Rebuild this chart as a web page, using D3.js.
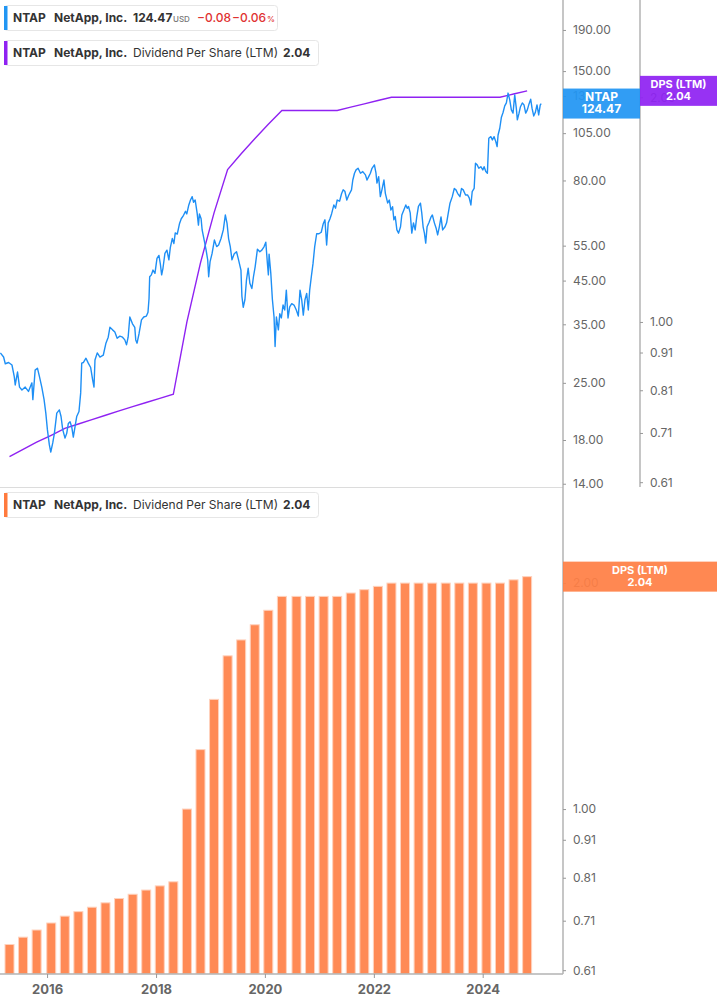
<!DOCTYPE html>
<html><head><meta charset="utf-8">
<script src="https://cdn.jsdelivr.net/npm/d3@7"></script>
<style>
html,body{margin:0;padding:0;background:#fff;}
svg{display:block;font-family:Inter,"Noto Sans",sans-serif;}
</style></head><body>
<svg id="c" width="717" height="1005"></svg>
<script>
// ---------- DATA ----------
// NTAP price (decimal year, USD)
const priceSeries = [
[2015.141,29.7],[2015.201,29.0],[2015.232,27.9],[2015.293,28.1],[2015.355,27.7],[2015.397,25.9],[2015.415,24.7],[2015.457,26.6],[2015.494,24.4],[2015.538,24.0],[2015.598,24.4],[2015.658,23.8],[2015.721,25.0],[2015.739,22.7],[2015.781,26.9],[2015.823,27.2],[2015.860,25.9],[2015.903,24.4],[2015.945,22.7],[2015.977,21.0],
[2016.006,19.1],[2016.042,17.5],[2016.068,16.8],[2016.104,17.7],[2016.134,18.7],[2016.178,21.0],[2016.225,21.4],[2016.256,20.6],[2016.287,19.1],[2016.329,18.2],[2016.360,18.7],[2016.390,19.8],[2016.421,20.0],[2016.452,19.4],[2016.481,18.3],[2016.512,19.4],[2016.543,20.6],[2016.585,21.2],[2016.616,23.6],[2016.635,28.0],[2016.664,28.1],[2016.713,28.8],[2016.755,28.0],[2016.799,27.3],[2016.836,25.4],[2016.860,24.4],[2016.878,28.5],[2016.920,29.7],[2016.969,29.0],
[2017.030,29.3],[2017.079,31.4],[2017.121,32.5],[2017.152,34.4],[2017.201,33.9],[2017.243,33.5],[2017.285,32.3],[2017.335,32.7],[2017.384,32.5],[2017.426,32.0],[2017.457,31.1],[2017.487,32.5],[2017.518,36.5],[2017.567,35.1],[2017.609,34.4],[2017.627,32.0],[2017.651,31.4],[2017.688,33.2],[2017.732,35.9],[2017.774,36.5],[2017.823,36.7],[2017.852,37.5],[2017.871,40.6],[2017.883,46.0],[2017.914,46.5],[2017.944,47.8],[2017.980,46.9],
[2018.017,51.1],[2018.053,52.0],[2018.079,49.5],[2018.103,46.5],[2018.127,48.3],[2018.163,52.6],[2018.200,53.6],[2018.236,50.7],[2018.262,54.4],[2018.298,57.3],[2018.328,55.7],[2018.353,59.2],[2018.390,58.8],[2018.432,62.5],[2018.463,64.2],[2018.505,65.5],[2018.541,67.0],[2018.565,66.0],[2018.602,69.5],[2018.633,71.5],[2018.664,72.9],[2018.688,70.6],[2018.719,71.5],[2018.755,66.3],[2018.779,61.9],[2018.797,66.0],[2018.828,64.2],[2018.847,60.2],[2018.889,56.4],[2018.920,53.6],[2018.949,50.7],[2018.967,46.0],[2018.993,50.2],
[2019.030,52.6],[2019.072,56.8],[2019.114,54.7],[2019.150,55.2],[2019.194,57.3],[2019.236,60.2],[2019.273,65.6],[2019.304,62.6],[2019.333,57.3],[2019.364,54.7],[2019.395,50.7],[2019.437,52.5],[2019.479,53.1],[2019.516,50.7],[2019.560,47.8],[2019.578,41.1],[2019.602,38.6],[2019.633,40.3],[2019.662,45.2],[2019.693,48.3],[2019.724,44.3],[2019.761,43.0],[2019.790,46.0],[2019.821,48.7],[2019.863,53.9],[2019.907,53.1],[2019.944,53.6],[2019.986,54.7],
[2020.017,56.1],[2020.046,49.7],[2020.064,46.5],[2020.077,52.4],[2020.108,47.0],[2020.138,40.3],[2020.168,36.5],[2020.187,30.8],[2020.211,36.5],[2020.247,33.9],[2020.273,37.2],[2020.302,36.3],[2020.333,39.1],[2020.364,38.0],[2020.393,42.6],[2020.424,36.3],[2020.455,38.7],[2020.492,39.4],[2020.534,39.1],[2020.576,38.0],[2020.613,36.7],[2020.644,42.6],[2020.675,40.3],[2020.704,36.9],[2020.735,40.3],[2020.766,41.8],[2020.796,38.0],[2020.821,42.6],[2020.851,46.0],[2020.882,49.6],[2020.913,54.7],[2020.949,58.9],[2020.991,58.9],
[2021.033,59.4],[2021.070,62.4],[2021.101,63.8],[2021.132,55.2],[2021.161,62.7],[2021.192,64.1],[2021.224,66.1],[2021.265,69.5],[2021.296,68.2],[2021.326,71.5],[2021.370,71.0],[2021.406,74.1],[2021.436,75.8],[2021.467,75.2],[2021.503,71.5],[2021.540,73.6],[2021.589,75.8],[2021.613,80.2],[2021.644,83.4],[2021.673,85.0],[2021.710,85.8],[2021.754,83.4],[2021.796,84.2],[2021.845,82.6],[2021.874,80.2],[2021.905,81.8],[2021.936,83.4],[2021.966,85.8],
[2022.010,87.5],[2022.039,83.4],[2022.057,78.8],[2022.088,81.8],[2022.119,72.9],[2022.148,75.8],[2022.185,80.2],[2022.211,74.3],[2022.253,70.3],[2022.284,71.5],[2022.313,67.5],[2022.344,68.8],[2022.368,63.8],[2022.393,65.0],[2022.423,60.2],[2022.454,59.1],[2022.490,61.3],[2022.514,65.6],[2022.551,67.5],[2022.587,69.5],[2022.613,68.2],[2022.637,68.9],[2022.668,66.4],[2022.697,59.1],[2022.728,62.7],[2022.759,60.2],[2022.788,64.9],[2022.819,68.9],[2022.856,70.2],[2022.880,66.4],[2022.905,61.3],[2022.929,59.1],[2022.953,55.8],[2022.978,61.3],
[2023.015,62.9],[2023.052,64.9],[2023.075,65.6],[2023.112,62.7],[2023.143,60.9],[2023.172,58.5],[2023.203,61.3],[2023.234,64.9],[2023.264,60.2],[2023.308,61.3],[2023.337,62.7],[2023.368,66.4],[2023.399,70.2],[2023.441,72.9],[2023.478,76.4],[2023.509,75.8],[2023.538,74.3],[2023.582,72.9],[2023.611,76.4],[2023.642,75.8],[2023.685,73.6],[2023.721,73.6],[2023.752,72.4],[2023.783,69.5],[2023.807,75.0],[2023.843,76.4],[2023.867,88.3],[2023.898,87.5],[2023.929,85.8],[2023.966,86.6],
[2024.002,85.0],[2024.026,86.6],[2024.057,84.2],[2024.086,83.4],[2024.112,102.0],[2024.149,102.9],[2024.178,101.0],[2024.209,102.9],[2024.240,100.0],[2024.264,97.2],[2024.282,103.9],[2024.313,108.0],[2024.343,115.1],[2024.373,118.2],[2024.404,122.8],[2024.434,124.9],[2024.465,132.2],[2024.496,127.1],[2024.525,120.0],[2024.556,117.8],[2024.587,130.8],[2024.616,121.2],[2024.635,113.3],[2024.666,117.8],[2024.690,122.0],[2024.726,124.9],[2024.757,123.5],[2024.788,117.8],[2024.818,120.0],[2024.849,124.2],[2024.880,127.6],[2024.904,121.2],[2024.935,115.9],[2024.964,118.2],[2024.995,123.5],
[2025.026,116.6],[2025.055,123.5],[2025.073,124.47]
];
// Dividend per share (LTM), fiscal quarter ends
const dpsDates = ["2015-04-24","2015-07-24","2015-10-23","2016-01-29","2016-04-29","2016-07-29","2016-10-28","2017-01-27","2017-04-28","2017-07-28","2017-10-27","2018-01-26","2018-04-27","2018-07-27","2018-10-26","2019-01-25","2019-04-26","2019-07-26","2019-10-25","2020-01-24","2020-04-24","2020-07-31","2020-10-30","2021-01-29","2021-04-30","2021-07-30","2021-10-29","2022-01-28","2022-04-29","2022-07-29","2022-10-28","2023-01-27","2023-04-28","2023-07-28","2023-10-27","2024-01-26","2024-04-26","2024-07-26","2024-10-25"];
const dpsValues = [0.66,0.675,0.69,0.705,0.72,0.73,0.74,0.75,0.76,0.77,0.78,0.79,0.80,1.00,1.20,1.40,1.60,1.68,1.76,1.84,1.92,1.92,1.92,1.92,1.92,1.94,1.96,1.98,2.00,2.00,2.00,2.00,2.00,2.00,2.00,2.00,2.00,2.02,2.04];
const yearTicks = [2016,2018,2020,2022,2024];
const priceTicks = [14,18,25,35,45,55,80,105,130,150,190];
const dpsTicks = [0.61,0.71,0.81,0.91,1.00,2.00];
const ticker = "NTAP", company = "NetApp, Inc.", metric = "Dividend Per Share (LTM)";
const lastPrice = 124.47, priceChange = -0.08, pctChange = -0.06, lastDps = 2.04;

// ---------- COLORS ----------
const BLUE = "#2196f3", PURPLE = "#8f22f2", ORANGE = "#ff8a55", ORANGE_LBL = "#ff7f45";
const AX = "#b3b3b3", TXT = "#666";

function decToDate(t){const y=Math.floor(t);const s=new Date(y,0,1),e=new Date(y+1,0,1);return new Date(+s+(t-y)*(e-s));}
const parse = d3.timeParse("%Y-%m-%d");

const svg = d3.select("#c");
const W = 563;
const x = d3.scaleTime().domain([decToDate(2015.135), decToDate(2025.473)]).range([0, W]);
const yP = d3.scaleLog().domain([13.74, 225.7]).range([487, 0]);
const yD1 = d3.scaleLog().domain([0.601, 2.70]).range([487, 0]);
const yD2 = d3.scaleLog().domain([0.6029, 2.661]).range([974, 490]);

const dps = dpsDates.map((d,i)=>({date:parse(d), v:dpsValues[i]}));
const price = priceSeries.map(d=>({date:decToDate(d[0]), v:d[1]}));

const defs = svg.append("defs");
defs.append("clipPath").attr("id","topclip").append("rect").attr("x",0).attr("y",0).attr("width",W).attr("height",487);
defs.append("clipPath").attr("id","botclip").append("rect").attr("x",0).attr("y",490).attr("width",W).attr("height",484);

// ---------- BOTTOM BARS ----------
svg.append("g").attr("clip-path","url(#botclip)").selectAll("rect").data(dps).join("rect")
  .attr("x", d=>x(d.date)-4.5).attr("width",9)
  .attr("y", d=>yD2(d.v)).attr("height", d=>974-yD2(d.v))
  .attr("fill", ORANGE).attr("stroke","#ffd2bd").attr("stroke-width",1);

// ---------- TOP LINES ----------
const gTop = svg.append("g").attr("clip-path","url(#topclip)");
gTop.append("path").datum(dps)
  .attr("d", d3.line().x(d=>x(d.date)).y(d=>yD1(d.v)))
  .attr("fill","none").attr("stroke",PURPLE).attr("stroke-width",1.4);
gTop.append("path").datum(price)
  .attr("d", d3.line().x(d=>x(d.date)).y(d=>yP(d.v)))
  .attr("fill","none").attr("stroke","#1e8ff5").attr("stroke-width",1.4).attr("stroke-linejoin","round");

// ---------- FRAME LINES ----------
svg.append("line").attr("x1",0).attr("x2",W).attr("y1",487.5).attr("y2",487.5).attr("stroke","#dcdcdc").attr("stroke-width",1);
svg.append("line").attr("x1",W).attr("x2",W).attr("y1",0).attr("y2",974).attr("stroke",AX).attr("stroke-width",1.5);
svg.append("line").attr("x1",640).attr("x2",640).attr("y1",0).attr("y2",487).attr("stroke",AX).attr("stroke-width",1.5);
svg.append("line").attr("x1",0).attr("x2",W).attr("y1",974).attr("y2",974).attr("stroke",AX).attr("stroke-width",1.5);

function styleAxis(g, size, bold){
  g.select(".domain").remove();
  g.selectAll(".tick line").attr("stroke","#999").attr("stroke-width",1);
  g.selectAll(".tick text").attr("fill",TXT).style("font-size",size).style("font-family","Inter,'Noto Sans',sans-serif").style("font-weight",bold?"700":"400");
}
const f2 = d3.format(".2f");
svg.append("g").attr("transform",`translate(${W},0)`)
  .call(d3.axisRight(yP).tickValues(priceTicks).tickFormat(f2).tickSize(3).tickPadding(7))
  .call(g=>styleAxis(g,"12px"));
svg.append("g").attr("transform",`translate(640,0)`)
  .call(d3.axisRight(yD1).tickValues(dpsTicks).tickFormat(f2).tickSize(3).tickPadding(7))
  .call(g=>styleAxis(g,"12px"));
svg.append("g").attr("transform",`translate(${W},0)`)
  .call(d3.axisRight(yD2).tickValues(dpsTicks).tickFormat(f2).tickSize(3).tickPadding(7))
  .call(g=>styleAxis(g,"12px"));
svg.append("g").attr("transform",`translate(0,974)`)
  .call(d3.axisBottom(x).tickValues(yearTicks.map(y=>new Date(y,0,1))).tickFormat(d3.timeFormat("%Y")).tickSize(4).tickPadding(7))
  .call(g=>styleAxis(g,"13px",true));

// ---------- RIGHT LABELS ----------
function tag(x0, w, yc, color, l1, l2, size){
  const g = svg.append("g");
  g.append("rect").attr("x",x0).attr("y",yc-15).attr("width",w).attr("height",30).attr("fill",color).attr("opacity",0.93);
  g.append("text").attr("x",x0+w/2).attr("y",yc-3).attr("text-anchor","middle").attr("fill","#fff").style("font-size",size).style("font-weight",700).text(l1);
  g.append("text").attr("x",x0+w/2).attr("y",yc+9).attr("text-anchor","middle").attr("fill","#fff").style("font-size",size).style("font-weight",700).text(l2);
}
tag(W, 77, yP(lastPrice), BLUE, ticker, f2(lastPrice), "12px");
tag(640, 77, yD1(lastDps), PURPLE, "DPS (LTM)", f2(lastDps), "11px");
tag(W, 154, yD2(lastDps), ORANGE_LBL, "DPS (LTM)", f2(lastDps), "11px");

// ---------- LEGENDS ----------
function legendBox(y, w, color){
  svg.append("rect").attr("x",4.5).attr("y",y+0.5).attr("width",w).attr("height",25).attr("rx",3).attr("fill","#fff").attr("stroke","#e6e6e6");
  svg.append("rect").attr("x",4).attr("y",y+1).attr("width",3.5).attr("height",24).attr("fill",color);
}
function t(xp, yp, s, opt={}){
  return svg.append("text").attr("x",xp).attr("y",yp).text(s)
    .attr("fill",opt.fill||"#333").style("font-size",opt.size||"12px").style("font-weight",opt.w||700);
}
legendBox(5, 273, BLUE);
t(13,22,ticker); t(54,22,company); t(133,22,f2(lastPrice));
t(173,22,"USD",{size:"8px",fill:"#777",w:500});
t(197,22,f2(priceChange),{fill:"#e03131",w:500});
const pc = t(232,22,f2(pctChange),{fill:"#e03131",w:500});
t(232+pc.node().getComputedTextLength()+1,22,"%",{fill:"#e03131",size:"8px",w:500});

legendBox(40, 314, PURPLE);
t(13,57,ticker); t(54,57,company); t(133,57,metric,{w:400}); t(283,57,f2(lastDps));

legendBox(492, 314, "#ff7a3d");
t(13,509,ticker); t(54,509,company); t(133,509,metric,{w:400}); t(283,509,f2(lastDps));
</script>
</body></html>
